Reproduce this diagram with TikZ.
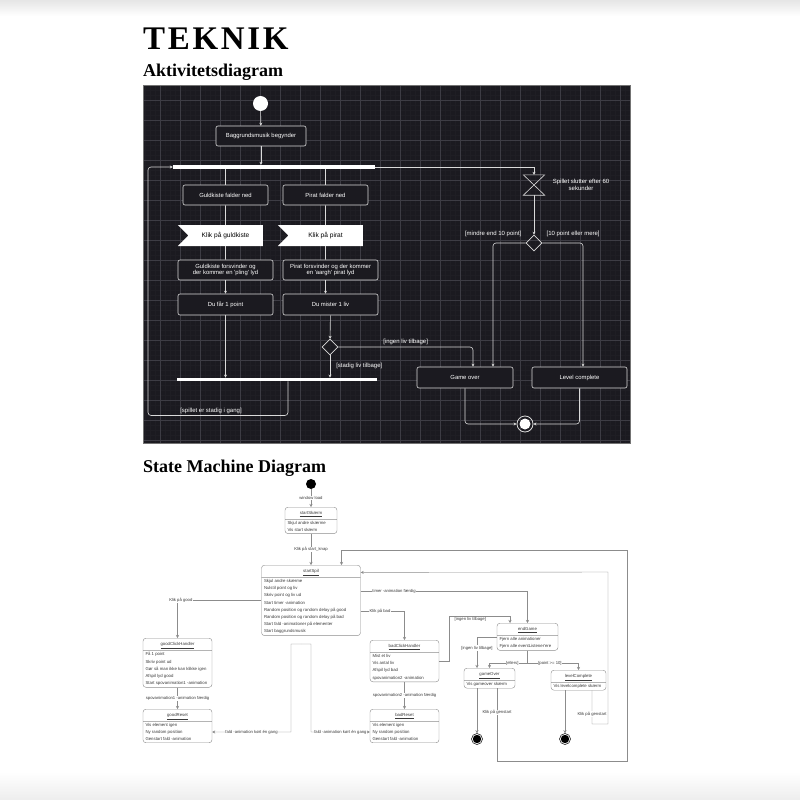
\documentclass[tikz,border=0pt]{standalone}
\usepackage{fontspec}
\setmainfont{Liberation Serif}
\newfontfamily\diafont{Liberation Sans}
\usetikzlibrary{positioning, arrows.meta, shapes.geometric, shapes.symbols, shapes.multipart}

\definecolor{panelbg}{HTML}{1B1A20}
\definecolor{gridmaj}{HTML}{3D3C44}
\definecolor{gridmin}{HTML}{1F1E24}
\definecolor{actline}{HTML}{DADADA}
\definecolor{smline}{HTML}{8C8C8C}
\definecolor{smtext}{HTML}{3A3A3A}

\newcommand\smtitle[1]{\rule[-3.3pt]{0pt}{8.8pt}\underline{#1}}

\begin{document}
\begin{tikzpicture}[x=1pt,y=-1pt,>={Stealth[length=3pt,width=3pt]},node distance=20pt,on grid,
    actbox/.style={draw=actline,fill=panelbg,rounded corners=2pt,line width=0.6pt,text=white,
      font=\diafont\fontsize{5.9}{6.8}\selectfont,align=center,minimum width=85pt,minimum height=20pt,inner sep=1pt},
    actsignal/.style={signal,signal from=west,signal to=nowhere,fill=white,text=black,
      font=\diafont\fontsize{6.6}{7.5}\selectfont,minimum width=85pt,minimum height=21pt,inner sep=0pt},
    bar/.style={fill=white,minimum height=4pt,inner sep=0pt},
    decision/.style={diamond,draw=actline,line width=0.6pt,minimum size=16pt,inner sep=0pt},
    guard/.style={text=white,font=\diafont\fontsize{6}{7}\selectfont,inner sep=1pt},
    actflow/.style={actline,line width=0.6pt},
    smstate/.style={rectangle split,rectangle split parts=2,rectangle split part align={center,left},
      draw=smline,rounded corners=3pt,line width=0.4pt,text=smtext,anchor=north,
      font=\diafont\fontsize{4.3}{7.2}\selectfont,align=left,inner xsep=2.5pt,inner ysep=1.6pt},
    smslut/.style={circle,draw=black,fill=white,line width=0.5pt,minimum size=11pt,inner sep=0pt,
      path picture={\fill[black] (path picture bounding box.center) circle (4.2pt);}},
    smflow/.style={smline,line width=0.4pt},
    smlabel/.style={fill=white,text=smtext,font=\diafont\fontsize{4.2}{5}\selectfont,inner sep=0.6pt},
  ]
  \useasboundingbox (0,0) rectangle (800,800);
  \fill[white] (0,0) rectangle (800,800);
  \shade[top color=black!10, bottom color=white] (0,0) rectangle (800,16);
  \shade[top color=white, bottom color=black!7] (0,772) rectangle (800,800);

  % overskrifter
  \node[anchor=base west, inner sep=0pt, font=\bfseries\fontsize{33}{33}\selectfont\addfontfeature{LetterSpace=8}] (titel) at (143,50) {TEKNIK};
  \node[anchor=base west, inner sep=0pt, font=\bfseries\fontsize{18}{18}\selectfont] (aktoverskrift) at (143,77) {Aktivitetsdiagram};
  \node[anchor=base west, inner sep=0pt, font=\bfseries\fontsize{18}{18}\selectfont] (smoverskrift) at (143,472) {State Machine Diagram};

  % aktivitetsdiagram
  \fill[panelbg] (143,85) rectangle (630,443);
  \begin{scope}
    \clip (143,85) rectangle (630,443);
    \draw[gridmin, line width=0.3pt, step=5pt] (140,80) grid (635,445);
    \draw[gridmaj, line width=0.5pt, step=20pt] (140,80) grid (635,445);
  \end{scope}
  \draw[black!55, line width=0.6pt] (143,85) rectangle (630,443);

  \node[circle, fill=white, minimum size=15pt, inner sep=0pt] (ainit) at (260.5,103.5) {};
  \node[actbox, minimum width=90pt] (musik) at (261,136) {Baggrundsmusik begynder};
  \node[bar, minimum width=202pt] (fork) at (274,167) {};
  \node[actbox] (guld) at (225.5,195) {Guldkiste falder ned};
  \node[actsignal] (klikguld) [below=40.5pt of guld] {Klik på guldkiste};
  \node[actbox, minimum width=95pt] (guldvaek) [below=34.5pt of klikguld] {Guldkiste forsvinder og\\der kommer en \textquotesingle pling\textquotesingle{} lyd};
  \node[actbox, minimum width=95pt, minimum height=21pt] (point) [below=34.5pt of guldvaek] {Du får 1 point};
  \node[actbox] (pirat) [right=100pt of guld] {Pirat falder ned};
  \node[actsignal] (klikpirat) [below=40.5pt of pirat] {Klik på pirat};
  \node[actbox, minimum width=95pt] (piratvaek) [below=34.5pt of klikpirat, xshift=5pt] {Pirat forsvinder og der kommer\\en \textquotesingle aargh\textquotesingle{} pirat lyd};
  \node[actbox, minimum width=95pt, minimum height=21pt] (liv) [below=34.5pt of piratvaek] {Du mister 1 liv};
  \node[decision] (livvalg) at (330,347) {};
  \node[bar, minimum width=200pt, minimum height=3.5pt] (join) at (277,379.5) {};
  \node[minimum width=21pt, minimum height=20pt, inner sep=0pt,
    label={[guard, align=center, label distance=7pt]east:Spillet slutter efter 60\\sekunder}] (timer) at (534,185) {};
  \draw[actflow] (timer.north west) -- (timer.north east) -- (timer.south west) -- (timer.south east) -- cycle;
  \node[decision] (pointvalg) [below=58pt of timer] {};
  \node[actbox, minimum width=96pt, minimum height=21pt] (gameover) at (465,377.5) {Game over};
  \node[actbox, minimum width=95pt, minimum height=21pt] (levelok) at (579.5,377.5) {Level complete};
  \node[circle, draw=actline, line width=0.8pt, minimum size=16pt, inner sep=0pt] (afin) at (525,424) {};
  \fill[white] (afin) circle (5.5);

  \path[->, actflow]
    (ainit) edge (musik)
    (musik) edge (musik.south |- fork.north)
    (guldvaek) edge (point)
    (klikpirat.south |- piratvaek.south) edge (klikpirat.south |- liv.north)
    (point) edge (point.south |- join.north)
    (liv) edge (livvalg)
    (livvalg) edge node[guard, anchor=west, xshift=5pt] {[stadig liv tilbage]} (livvalg.south |- join.north)
    (timer) edge (pointvalg);
  \path[actflow]
    (guld.north |- fork.south) edge (guld)
    (pirat.north |- fork.south) edge (pirat)
    (guld) edge (klikguld)
    (klikguld) edge (guldvaek)
    (pirat) edge (klikpirat)
    (klikpirat) edge (klikpirat.south |- piratvaek.north);
  \draw[->, actflow] (fork.east) -| (timer.north);
  \draw[->, actflow, rounded corners=3pt] (livvalg.east) -| node[guard, pos=0.25, above=1pt] {[ingen liv tilbage]} ([xshift=8pt]gameover.north);
  \draw[->, actflow, rounded corners=3pt] ([xshift=11pt]join.south) -- ++(0,34)
    -- node[guard, pos=0.55, above] {[spillet er stadig i gang]} ++(-140,0) |- (fork.west);
  \draw[->, actflow, rounded corners=3pt] (pointvalg.west) -| node[guard, pos=0, anchor=south east, xshift=-3pt, yshift=5pt] {[mindre end 10 point]} ([xshift=28pt]gameover.north);
  \draw[->, actflow, rounded corners=3pt] (pointvalg.east) -| node[guard, pos=0, anchor=south west, xshift=3pt, yshift=5pt] {[10 point eller mere]} ([xshift=3.5pt]levelok.north);
  \draw[->, actflow, rounded corners=3pt] (gameover.south) |- (afin.west);
  \draw[->, actflow, rounded corners=3pt] (levelok.south) |- (afin.east);

  % state machine
  \node[circle, fill=black, minimum size=10pt, inner sep=0pt] (sminit) at (311,484) {};
  \node[smstate, minimum width=52pt] (startSkaerm) at (311,507) {\smtitle{startSkærm}\nodepart{two}Skjul andre skærme\\Vis start skærm};
  \node[smstate, minimum width=99pt] (startSpil) at (311,565) {\smtitle{startSpil}\nodepart{two}Skjul andre skærme\\Nulstil point og liv\\Skriv point og liv ud\\Start timer -animation\\Random position og random delay på good\\Random position og random delay på bad\\Start fald -animationer på elementer\\Start baggrundsmusik};
  \node[smstate, minimum width=69pt] (goodClick) at (177.5,638) {\smtitle{goodClickHandler}\nodepart{two}Få 1 point\\Skriv point ud\\Gør så man ikke kan klikke igen\\Afspil lyd good\\Start spovanimation1 -animation};
  \node[smstate, minimum width=69pt] (goodReset) at (177.5,709) {\smtitle{goodReset}\nodepart{two}Vis element igen\\Ny random position\\Genstart fald -animation};
  \node[smstate, minimum width=69pt] (badClick) at (404.5,640) {\smtitle{badClickHandler}\nodepart{two}Mist et liv\\Vis antal liv\\Afspil lyd bad\\spovanimation2 -animation};
  \node[smstate, minimum width=69pt] (badReset) at (404.5,709) {\smtitle{badReset}\nodepart{two}Vis element igen\\Ny random position\\Genstart fald -animation};
  \node[smstate, minimum width=61pt] (endGame) at (527.5,623) {\smtitle{endGame}\nodepart{two}Fjern alle animationer\\Fjern alle eventListener\textquotesingle ere};
  \node[smstate, minimum width=51pt] (gameOver) at (489.5,668) {\smtitle{gameOver}\nodepart{two}Vis gameover skærm};
  \node[smstate, minimum width=55pt] (levelComplete) at (578.5,670) {\smtitle{levelComplete}\nodepart{two}Vis levelcomplete skærm};
  \node[smslut] (slut1) at (477,739) {};
  \node[smslut] (slut2) at (565,739) {};
  \coordinate (faldtop) at (301,644);

  \path[->, smflow]
    (sminit) edge node[smlabel] {window load} (startSkaerm)
    (startSkaerm) edge node[smlabel] {Klik på start\_knap} (startSpil)
    (goodClick) edge node[smlabel] {spovanimation1 -animation færdig} (goodReset)
    (badClick) edge node[smlabel] {spovanimation2 -animation færdig} (badReset)
    ([xshift=-12.5pt]gameOver.south) edge (slut1)
    ([xshift=-13.5pt]levelComplete.south) edge (slut2);
  \draw[->, smflow] (startSpil.west) -| node[smlabel, pos=0.48] {Klik på good} (goodClick.north);
  \draw[->, smflow] ([yshift=9pt]startSpil.east) -| node[smlabel, pos=0.1] {timer -animation færdig} (endGame.north);
  \draw[->, smflow] ([yshift=-11pt]startSpil.east) -| node[smlabel, pos=0.22] {Klik på bad} (badClick.north);
  \draw[->, smflow] (badClick.east) -| (449,616) -- node[smlabel, pos=0.35, anchor=north, yshift=-1pt] {[ingen liv tilbage]} (510,616) -- ([xshift=-17.5pt]endGame.north);
  \draw[->, smflow] (endGame.west) -| node[smlabel, pos=0.68] {[ingen liv tilbage]} ([xshift=-12.5pt]gameOver.north);
  \draw[->, smflow] (endGame.south) -- ++(0,12.5) -| node[smlabel, pos=0.2] {[ellers]} (gameOver.north);
  \draw[->, smflow] (endGame.south) -- ++(0,12.5) -| node[smlabel, pos=0.22] {[point >= 10]} (levelComplete.north);
  \draw[->, smflow] ([xshift=7.5pt]gameOver.south) -- node[smlabel, pos=0.33] {Klik på genstart} ++(0,72.6) -| (627,550) -| ([xshift=30.5pt]startSpil.north);
  \draw[->, smflow] ([xshift=13.5pt]levelComplete.south) -- node[smlabel, pos=0.7] {Klik på genstart} ++(0,33.6) -| (608,572) -- ([yshift=28pt]startSpil.east);
  \draw[->, smflow] (faldtop) -| ++(-10,88) -- node[smlabel] {fald -animation kørt én gang} ([yshift=-6pt]goodReset.east);
  \draw[->, smflow] (faldtop) -| ++(10,88) -- node[smlabel] {fald -animation kørt én gang} ([yshift=-6pt]badReset.west);
\end{tikzpicture}
\end{document}
